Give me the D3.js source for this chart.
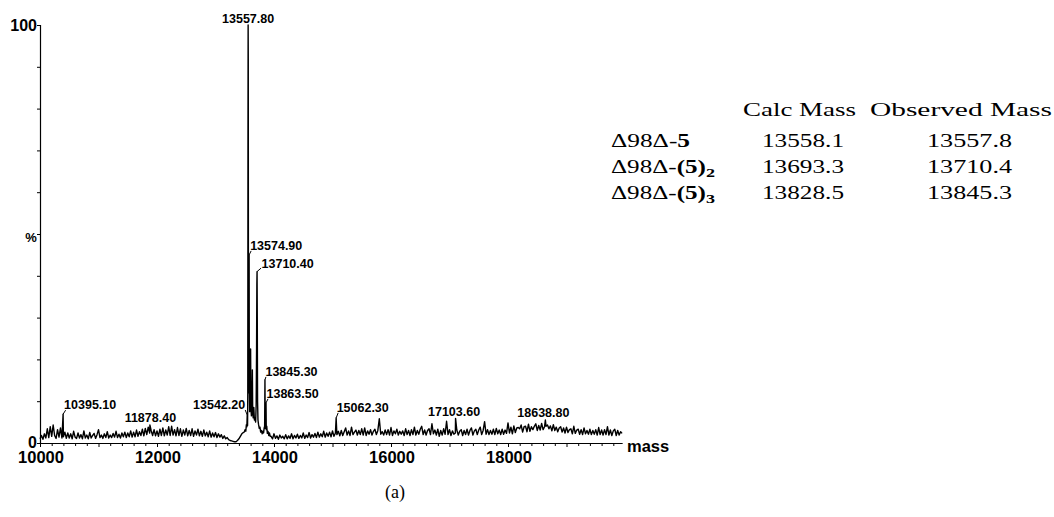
<!DOCTYPE html>
<html>
<head>
<meta charset="utf-8">
<script src="https://cdn.jsdelivr.net/npm/d3@7"></script>
<style>
  body { margin: 0; background: #fff; }
  svg { display: block; }
</style>
</head>
<body>
<svg id="chart" width="1054" height="517"></svg>
<script>
// ---- Spectrum data (relative intensity, %) ----
// Background trace sampled every 25 Da, 10000 - 13475 Da (rows of 250 Da)
const traceStartA = 10000;
const traceStep = 25;
const traceA = [
  1.0,1.8,0.9,2.2,1.2,3.4,1.3,3.9,1.6,4.3,   // 10000
  1.8,1.1,3.2,1.4,3.6,1.2,1.5,2.6,1.1,2.4,   // 10250
  1.2,2.2,1.0,2.8,1.4,1.1,2.4,1.2,2.0,1.0,   // 10500
  2.9,1.2,1.9,1.0,2.5,1.2,1.8,2.3,1.1,2.0,   // 10750
  3.2,1.3,1.9,1.1,2.2,1.3,2.7,1.2,1.9,1.3,   // 11000
  2.3,1.4,2.8,1.3,2.1,1.2,2.4,1.5,2.6,1.3,   // 11250
  2.4,1.5,2.9,1.4,2.6,1.5,3.1,1.6,2.7,1.8,   // 11500
  3.3,1.7,3.5,2.0,3.8,2.4,3.0,1.8,3.2,1.7,   // 11750
  2.9,1.6,3.3,1.8,3.6,1.7,3.1,1.9,3.9,1.8,   // 12000
  4.0,1.9,3.2,1.7,3.7,1.8,3.4,1.6,3.1,1.9,   // 12250
  3.5,1.7,3.0,1.8,3.4,1.6,2.9,1.9,3.3,1.7,   // 12500
  2.8,1.6,3.1,1.7,2.6,1.5,2.9,1.4,2.4,1.5,   // 12750
  2.5,1.3,2.2,1.4,2.0,1.1,1.7,1.0,1.3,0.8,   // 13000
  0.6,0.5,0.4,0.3,0.3,0.6,1.0,1.6,2.2,2.5    // 13250
];

// Protein cluster around the main adduct peaks: [mass, %]
const clusterPoints = [
  [13490,2.6],[13505,3.2],[13518,2.8],[13528,4.4],[13536,3.9],[13548,4.2],
  [13552,12],[13555,70],[13560,92],[13563,30],[13567,12],[13571,20],
  [13578,14],[13584,7.5],[13592,9],[13600,22.5],[13606,8],[13614,6.5],
  [13622,9],[13630,17.5],[13636,7],[13645,6],[13655,8.5],[13665,5.5],
  [13675,6],[13686,5],[13695,9],[13702,22],[13707,38],[13714,30],
  [13719,10],[13726,5.5],[13735,4.5],[13748,3.5],[13760,3.8],[13772,2.6],
  [13785,3.0],[13798,2.2],[13810,2.8],[13822,2.4],[13832,3.6],[13840,4],
  [13850,3.5],[13856,5],[13868,3.2],[13876,4],[13886,2.3],[13898,2.8],
  [13910,1.8],[13922,2.4],[13935,1.6]
];

// Background trace sampled every 25 Da, 13950 - 19950 Da
const traceStartB = 13950;
const traceB = [
  1.6,1.0,2.2,1.1,1.7,0.9,1.9,1.2,1.6,1.0,   // 13950
  2.0,1.0,1.7,1.1,2.2,1.0,1.8,1.2,2.1,1.1,   // 14200
  1.8,1.2,2.4,1.1,1.9,1.3,2.5,1.2,2.0,1.4,   // 14450
  2.3,1.3,2.6,1.4,2.2,1.5,2.8,1.4,2.4,1.6,   // 14700
  2.6,1.5,2.9,1.6,2.4,2.0,2.8,1.7,3.0,1.8,   // 14950
  2.7,3.6,1.9,2.9,1.8,3.8,2.0,2.6,3.1,1.9,   // 15200
  3.0,2.0,3.4,1.9,3.6,1.8,2.9,2.1,3.2,1.9,   // 15450
  2.8,3.3,2.0,3.0,5.8,2.1,2.7,1.9,3.1,2.0,   // 15700
  3.2,1.9,3.7,1.8,2.9,2.2,3.3,1.9,2.8,2.1,   // 15950
  2.9,1.8,3.4,2.0,3.0,1.8,3.2,2.0,3.8,1.9,   // 16200
  3.0,2.1,3.3,4.0,2.0,3.1,1.9,3.0,3.4,2.0,   // 16450
  4.6,2.2,3.1,1.9,3.3,1.6,3.0,1.9,3.4,2.1,   // 16700
  5.2,2.0,3.2,1.8,2.9,2.1,2.4,3.1,1.9,2.8,   // 16950
  3.2,1.8,3.0,2.0,3.3,1.9,3.0,3.6,1.9,2.9,   // 17200
  3.3,2.0,3.1,3.8,2.0,3.0,5.1,2.1,3.2,2.0,   // 17450
  3.0,2.1,3.3,2.0,3.5,2.2,3.1,2.0,3.3,2.1,   // 17700
  3.1,2.3,4.8,2.4,3.8,2.2,4.1,2.5,3.6,3.7,   // 17950
  3.4,4.3,2.6,3.9,4.0,2.7,4.5,2.8,3.9,3.2,   // 18200
  4.0,4.6,3.0,4.2,3.1,4.7,3.2,3.9,4.0,4.3,   // 18450
  3.4,4.1,2.9,4.4,3.0,3.8,2.7,3.6,3.9,2.6,   // 18700
  3.6,2.4,3.8,2.5,3.2,3.4,2.2,4.0,2.3,3.1,   // 18950
  3.3,2.1,3.2,2.0,3.6,2.2,3.0,2.1,3.3,2.0,   // 19200
  3.0,2.1,3.2,1.9,3.7,2.0,3.1,1.9,3.2,2.0,   // 19450
  3.9,1.9,3.1,1.8,2.9,3.3,1.8,3.0,1.9,2.7,   // 19700
  2.3                                         // 19950
];

// Labelled peaks
const peakMasses  = [10395.10, 11878.40, 13542.20, 13557.80, 13574.90, 13710.40, 13845.30, 13863.50, 15062.30, 17103.60, 18638.80];
const peakHeights = [6.9, 4.3, 6.7, 100, 45, 41, 15.1, 9.6, 6.0, 5.9, 5.5];
const peakLabels  = ["10395.10","11878.40","13542.20","13557.80","13574.90","13710.40","13845.30","13863.50","15062.30","17103.60","18638.80"];

// Axis
const xTickLabels = [10000, 12000, 14000, 16000, 18000];
const yTickLabels = ["0", "100"];

// Mass table
const tableHeaders  = ["Calc Mass", "Observed Mass"];
const speciesNames  = ["5", "(5)2", "(5)3"];
const calcMasses    = ["13558.1", "13693.3", "13828.5"];
const observedMasses = ["13557.8", "13710.4", "13845.3"];

// ---- Layout ----
const svg = d3.select("#chart");
const sans = "Arial, 'Liberation Sans', Helvetica, sans-serif";
const serif = "'Liberation Serif', 'Times New Roman', Times, serif";

const x = d3.scaleLinear().domain([10000, 20000]).range([40, 625]);
const y = d3.scaleLinear().domain([0, 100]).range([443, 25]);

// Assemble the trace
const pts = [];
traceA.forEach((v, i) => pts.push([traceStartA + i * traceStep, v]));
clusterPoints.forEach(p => pts.push(p));
traceB.forEach((v, i) => pts.push([traceStartB + i * traceStep, v]));
peakMasses.forEach((m, i) => pts.push([m, peakHeights[i]]));
pts.sort((a, b) => a[0] - b[0]);

// X axis
const xAxis = d3.axisBottom(x)
  .tickValues(d3.range(10000, 20000, 200))
  .tickSize(3)
  .tickFormat("");
const gx = svg.append("g").attr("transform", "translate(0,443)").call(xAxis);
gx.select(".domain").attr("d", `M${x(10000)},0.5H${x(19960)}`).attr("stroke", "#000").attr("stroke-width", 1.2);
gx.selectAll(".tick line").attr("stroke", "#000")
  .attr("y2", d => (d % 1000 === 0 ? 4 : 3));

svg.append("g").selectAll("text").data(xTickLabels).join("text")
  .attr("x", d => x(d) + 1)
  .attr("y", 463)
  .attr("text-anchor", "middle")
  .attr("font-family", sans).attr("font-weight", "bold").attr("font-size", 16.5)
  .text(d => d);

svg.append("text")
  .attr("x", 627).attr("y", 451.5)
  .attr("font-family", sans).attr("font-weight", "bold").attr("font-size", 16.5)
  .text("mass");

// Y axis
const yAxis = d3.axisLeft(y)
  .tickValues(d3.range(0, 101, 10))
  .tickSize(3)
  .tickFormat("");
const gy = svg.append("g").attr("transform", "translate(40,0)").call(yAxis);
gy.select(".domain").attr("d", `M0.5,${y(100)}V${y(0)}`).attr("stroke", "#000").attr("stroke-width", 1.2);
gy.selectAll(".tick line").attr("stroke", "#000");

svg.append("g").selectAll("text").data(yTickLabels).join("text")
  .attr("x", 37)
  .attr("y", d => y(+d) + (d === "0" ? 4.5 : 6))
  .attr("text-anchor", "end")
  .attr("font-family", sans).attr("font-weight", "bold").attr("font-size", 16)
  .text(d => d);

svg.append("text")
  .attr("x", 31).attr("y", 241.5)
  .attr("text-anchor", "middle")
  .attr("font-family", sans).attr("font-weight", "bold").attr("font-size", 13)
  .text("%");

// Spectrum trace
const line = d3.line().x(d => x(d[0])).y(d => y(d[1]));
svg.append("path")
  .datum(pts)
  .attr("d", line)
  .attr("fill", "none")
  .attr("stroke", "#000")
  .attr("stroke-width", 1.4)
  .attr("stroke-linejoin", "round");

// Peak annotations: anchor, text offset from the peak top, leader end
const labelLayout = [
  { anchor: "start",  dx: 1,    dy: -5,   leader: [2.5, -4] },
  { anchor: "middle", dx: 0.5,  dy: -3,   leader: null },
  { anchor: "end",    dx: -2,   dy: -6,   leader: [-2, -5] },
  { anchor: "middle", dx: 0,    dy: -2.5, leader: null },
  { anchor: "start",  dx: 1,    dy: -5,   leader: [2, -4] },
  { anchor: "start",  dx: 4.5,  dy: -4,   leader: [4, -3.5] },
  { anchor: "start",  dx: 0.5,  dy: -3.5, leader: [1, -3] },
  { anchor: "start",  dx: 0.5,  dy: -5,   leader: [2, -4] },
  { anchor: "start",  dx: 0.5,  dy: -6,   leader: [2, -5] },
  { anchor: "middle", dx: -1.5, dy: -2,   leader: null },
  { anchor: "middle", dx: -2,   dy: -3,   leader: null }
];

const ann = svg.append("g");
peakMasses.forEach((m, i) => {
  const px = x(m), py = y(peakHeights[i]);
  const L = labelLayout[i];
  if (L.leader) {
    ann.append("line")
      .attr("x1", px).attr("y1", py)
      .attr("x2", px + L.leader[0]).attr("y2", py + L.leader[1])
      .attr("stroke", "#000").attr("stroke-width", 1);
  }
  ann.append("text")
    .attr("x", px + L.dx).attr("y", py + L.dy)
    .attr("text-anchor", L.anchor)
    .attr("font-family", sans).attr("font-weight", "bold").attr("font-size", 12.5)
    .text(peakLabels[i]);
});

// Mass table
const tbl = svg.append("g").attr("font-family", serif).attr("font-size", 18).attr("fill", "#000");
const headerX = [743, 870], headerW = [113, 182];
tableHeaders.forEach((h, i) => {
  tbl.append("text").attr("x", headerX[i]).attr("y", 116)
    .attr("textLength", headerW[i]).attr("lengthAdjust", "spacingAndGlyphs")
    .text(h);
});
const rowY = [146.5, 172.5, 198.5];
speciesNames.forEach((s, i) => {
  const t = tbl.append("text").attr("x", 611).attr("y", rowY[i]);
  t.append("tspan").text("\u039498\u0394-");
  if (s === "5") {
    t.append("tspan").attr("font-weight", "bold").text("5");
    t.attr("textLength", 79).attr("lengthAdjust", "spacingAndGlyphs");
  } else {
    t.append("tspan").attr("font-weight", "bold").text("(5)");
    t.append("tspan").attr("font-weight", "bold").attr("font-size", 13).attr("dy", 4).text(s.slice(-1));
    t.attr("textLength", 104).attr("lengthAdjust", "spacingAndGlyphs");
  }
  tbl.append("text").attr("x", 762).attr("y", rowY[i])
    .attr("textLength", 82).attr("lengthAdjust", "spacingAndGlyphs")
    .text(calcMasses[i]);
  tbl.append("text").attr("x", 927).attr("y", rowY[i])
    .attr("textLength", 85).attr("lengthAdjust", "spacingAndGlyphs")
    .text(observedMasses[i]);
});

// Panel caption
svg.append("text")
  .attr("x", 395).attr("y", 498)
  .attr("text-anchor", "middle")
  .attr("font-family", serif).attr("font-size", 18)
  .text("(a)");
</script>
</body>
</html>
